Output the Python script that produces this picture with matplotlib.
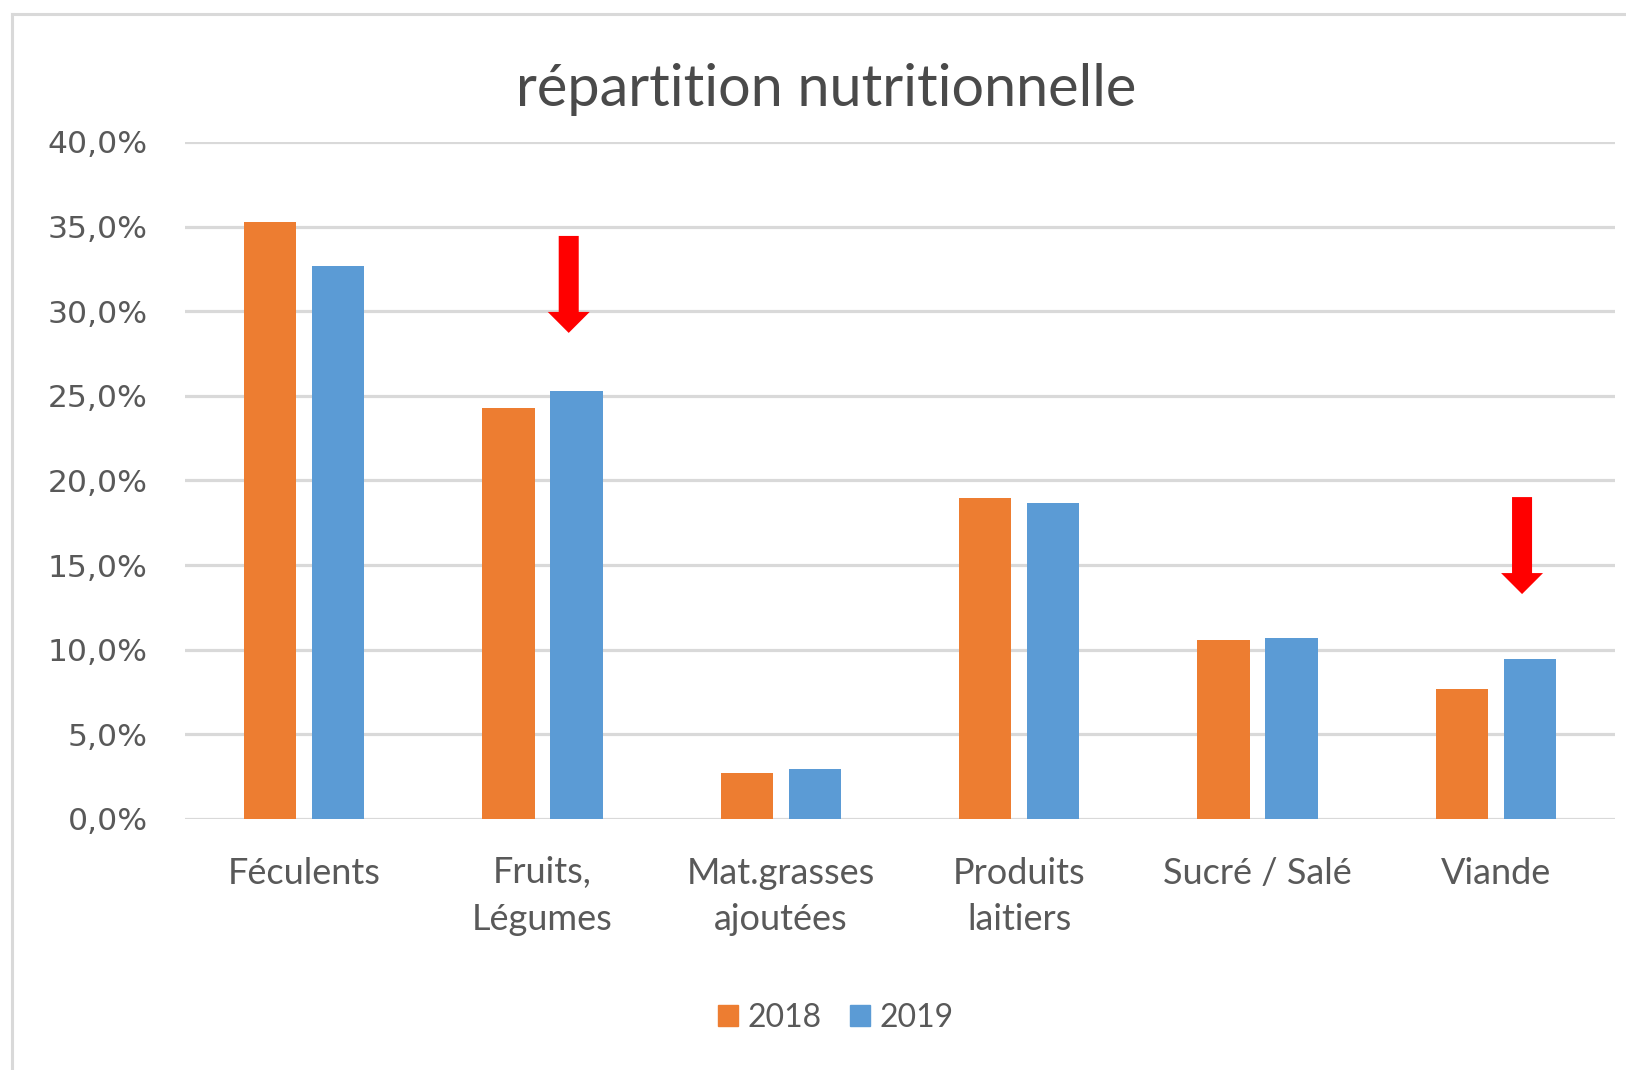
import matplotlib
matplotlib.use("Agg")
import matplotlib.pyplot as plt
from matplotlib.patches import Patch, FancyArrow
from matplotlib.lines import Line2D
from matplotlib.ticker import FuncFormatter
import numpy as np

categories = ["Féculents", "Fruits,\nLégumes", "Mat.grasses\najoutées",
              "Produits\nlaitiers", "Sucré / Salé", "Viande"]
series_names = ["2018", "2019"]
values_2018 = [0.353, 0.243, 0.027, 0.1895, 0.1058, 0.077]
values_2019 = [0.3265, 0.253, 0.0294, 0.1869, 0.1069, 0.0945]
yticks = [0.0, 0.05, 0.10, 0.15, 0.20, 0.25, 0.30, 0.35, 0.40]
# annotation arrows (category index, top value, tip value)
arrow_cats = [1, 5]
arrow_tops = [0.3445, 0.1902]
arrow_tips = [0.2872, 0.1329]

ORANGE = "#ED7D31"
BLUE = "#5B9BD5"
GREY_TXT = "#595959"
GRID = "#d9d9d9"

fig = plt.figure(figsize=(16.26, 10.70), dpi=100)
ax = fig.add_axes([185/1626, 1-819/1070, (1615-185)/1626, (819-142)/1070])

x = np.arange(len(categories))
bw = 0.22
off = 0.1425
ax.bar(x - off, values_2018, width=bw, color=ORANGE, zorder=3)
ax.bar(x + off, values_2019, width=bw, color=BLUE, zorder=3)

ax.set_xlim(-0.5, len(categories) - 0.5)
ax.set_ylim(0, 0.40)
ax.set_yticks(yticks)
ax.yaxis.set_major_formatter(FuncFormatter(lambda v, p: f"{v*100:.1f}%".replace(".", ",")))
ax.set_xticks(x)
ax.set_xticklabels(categories, family="Lato", fontsize=26, color=GREY_TXT, linespacing=1.5)
for lab in ax.get_yticklabels():
    lab.set_family("DejaVu Sans")
    lab.set_fontsize(22.6)
    lab.set_color(GREY_TXT)
ax.tick_params(axis="y", length=0, pad=27)
ax.tick_params(axis="x", length=0, pad=27)
ax.grid(axis="y", color=GRID, linewidth=2.3, zorder=0)
ax.set_axisbelow(True)
for s in ax.spines.values():
    s.set_visible(False)

# red arrows
for c, top, tip in zip(arrow_cats, arrow_tops, arrow_tips):
    xc = c + 0.11
    hl = 0.0124
    ax.add_patch(FancyArrow(xc, top, 0, tip - top, width=0.084, head_width=0.176,
                            head_length=hl, length_includes_head=True,
                            color="#FF0000", linewidth=0, zorder=5))

fig.text(826/1626, 1-90/1070, "répartition nutritionnelle", family="Lato",
         fontsize=41.5, color="#4a4a4a", ha="center", va="center")

handles = [Patch(facecolor=ORANGE, edgecolor=ORANGE), Patch(facecolor=BLUE, edgecolor=BLUE)]
leg = fig.legend(handles, series_names, loc="center", bbox_to_anchor=(836/1626, 1-1018/1070),
                 ncol=2, frameon=False, prop={"family": "Lato", "size": 23},
                 handlelength=0.62, handleheight=0.62, handletextpad=0.3, columnspacing=0.9)
for t in leg.get_texts():
    t.set_color(GREY_TXT)

# chart border (screenshot frame)
fig.add_artist(Line2D([11.5/1626, 11.5/1626], [0, 1-13.5/1070], transform=fig.transFigure,
                      color=GRID, linewidth=2.2))
fig.add_artist(Line2D([11.5/1626, 1], [1-13.5/1070, 1-13.5/1070], transform=fig.transFigure,
                      color=GRID, linewidth=2.2))

fig.savefig("out.png", dpi=100, facecolor="white")
